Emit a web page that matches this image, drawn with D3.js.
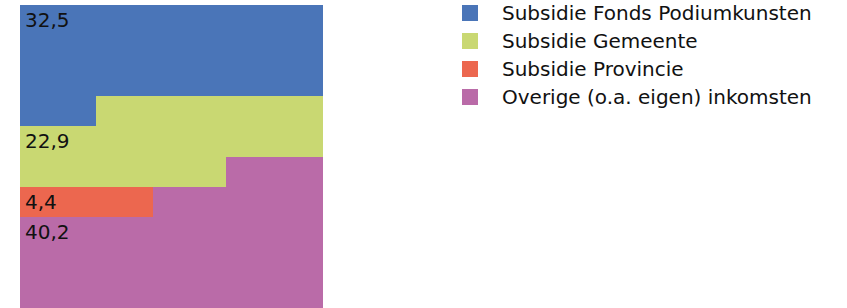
<!DOCTYPE html>
<html>
<head>
<meta charset="utf-8">
<script src="https://cdn.jsdelivr.net/npm/d3@7"></script>
<style>
  html, body { margin: 0; padding: 0; background: #fff; }
  svg { display: block; }
  text { font-family: "DejaVu Sans", sans-serif; }
</style>
</head>
<body>
<div id="chart"></div>
<script>
// ---- data ----
const categories = [
  "Subsidie Fonds Podiumkunsten",
  "Subsidie Gemeente",
  "Subsidie Provincie",
  "Overige (o.a. eigen) inkomsten"
];
const values = [32.5, 22.9, 4.4, 40.2];
const valueLabels = ["32,5", "22,9", "4,4", "40,2"];
// extent of each block on the 10 x 10 grid (cell units 0..100), as drawn
const fillStart = [0, 32.5, 60, 56.8];
const fillEnd   = [32.5, 56.8, 64.4, 100];
const colors = ["#4a75b8", "#c9d872", "#ec674f", "#ba6ba8"];
const drawOrder = [0, 1, 3, 2];

// ---- layout ----
const W = 847, H = 308;
const svg = d3.select("#chart").append("svg").attr("width", W).attr("height", H);

const x = d3.scaleLinear().domain([0, 10]).range([20, 323]);
const y = d3.scaleLinear().domain([0, 10]).range([5, 308]);

function blockPoints(s, e) {
  let rs = Math.floor(s / 10), cs = s - rs * 10;
  let re = Math.floor(e / 10), ce = e - re * 10;
  if (ce < 1e-9) { re -= 1; ce = 10; }
  if (rs === re) {
    return [[cs, rs], [ce, rs], [ce, rs + 1], [cs, rs + 1]];
  }
  return [[cs, rs], [10, rs], [10, re], [ce, re], [ce, re + 1], [0, re + 1], [0, rs + 1], [cs, rs + 1]];
}

const g = svg.append("g");
g.selectAll("polygon")
  .data(drawOrder)
  .join("polygon")
  .attr("points", i => blockPoints(fillStart[i], fillEnd[i]).map(p => [x(p[0]), y(p[1])].join(",")).join(" "))
  .attr("fill", i => colors[i])
  .attr("shape-rendering", "crispEdges");

// labels: first row whose left-most cell shows the block (top-most in draw order)
function topBlockAt(pos) {
  let top = -1;
  drawOrder.forEach(i => { if (pos >= fillStart[i] && pos < fillEnd[i]) top = i; });
  return top;
}
function labelRow(i) {
  for (let r = 0; r < 10; r++) if (topBlockAt(r * 10 + 0.01) === i) return r;
  return 0;
}
svg.append("g").selectAll("text")
  .data(d3.range(values.length))
  .join("text")
  .attr("x", x(0) + 5)
  .attr("y", i => y(labelRow(i)) + 22)
  .attr("font-size", 20)
  .attr("fill", "#111")
  .text(i => valueLabels[i]);

// legend
const leg = svg.append("g").attr("transform", "translate(462,5)");
const items = leg.selectAll("g").data(categories).join("g")
  .attr("transform", (d, i) => `translate(0,${i * 28})`);
items.append("rect").attr("width", 16).attr("height", 16)
  .attr("fill", (d, i) => colors[i]);
items.append("text").attr("x", 40).attr("y", 15)
  .attr("font-size", 20).attr("fill", "#111").text(d => d);
</script>
</body>
</html>
